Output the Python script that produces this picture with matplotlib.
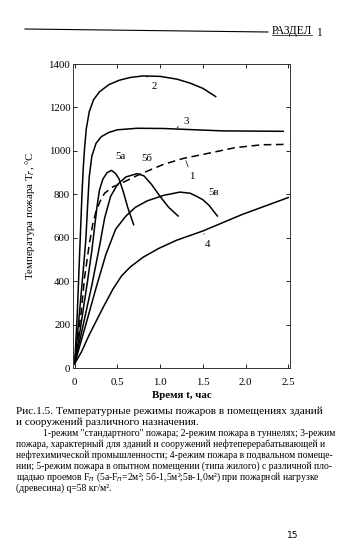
import numpy as np
import matplotlib.pyplot as plt

plt.rcParams['font.family'] = ['Liberation Serif', 'DejaVu Serif']

# Curve data (time, hours / temperature, C)
t1 = [0, 0.077, 0.115, 0.17, 0.21, 0.25, 0.3, 0.35, 0.45, 0.52, 0.75, 0.9, 1.04,
      1.27, 1.58, 1.88, 2.19, 2.5]
T1 = [20, 263, 415, 569, 660, 723, 770, 805, 835, 846, 890, 915, 938,
      965, 990, 1015, 1028, 1030]

t2 = [0, 0.03, 0.06, 0.085, 0.1, 0.115, 0.135, 0.17, 0.22, 0.29, 0.4, 0.52, 0.65,
      0.8, 1.0, 1.2, 1.35, 1.5, 1.65]
T2 = [20, 250, 550, 800, 920, 1010, 1100, 1180, 1235, 1272, 1305, 1325, 1338,
      1345, 1343, 1330, 1312, 1288, 1250]

t3 = [0, 0.05, 0.1, 0.13, 0.15, 0.17, 0.2, 0.25, 0.31, 0.4, 0.5, 0.73, 1.04, 1.35,
      1.73, 2.44]
T3 = [20, 230, 450, 590, 740, 880, 975, 1035, 1065, 1085, 1097, 1104, 1103, 1098,
      1092, 1090]

t4 = [0, 0.08, 0.17, 0.33, 0.45, 0.55, 0.65, 0.8, 0.98, 1.19, 1.5, 1.96, 2.5]
T4 = [20, 75, 153, 277, 365, 425, 465, 510, 550, 588, 631, 707, 785]

t5a = [0, 0.05, 0.1, 0.15, 0.2, 0.23, 0.26, 0.29, 0.33, 0.38, 0.43, 0.48, 0.52,
       0.57, 0.62, 0.69]
T5a = [20, 140, 270, 400, 540, 640, 740, 820, 870, 900, 910, 895, 870,
       810, 740, 660]

t5b = [0, 0.1, 0.2, 0.29, 0.35, 0.42, 0.5, 0.6, 0.73, 0.81, 0.9, 1.0, 1.1, 1.21]
T5b = [20, 200, 380, 560, 690, 790, 845, 880, 895, 885, 845, 790, 740, 700]

t5v = [0, 0.13, 0.25, 0.365, 0.48, 0.6, 0.71, 0.85, 1.04, 1.23, 1.35, 1.42, 1.5,
       1.57, 1.67]
T5v = [20, 200, 369, 523, 640, 700, 740, 770, 795, 810, 805, 792, 775, 750, 700]

W, H = 350, 557
fig = plt.figure(figsize=(W / 100, H / 100), dpi=100)

def px(x, y):
    return x / W, 1 - y / H

ax = fig.add_axes([73 / W, 1 - 368 / H, 217 / W, 304 / H])
kw = dict(color='black', lw=1.1)
ax.plot(t1, T1, ls=(0, (5, 3)), **kw)
ax.plot(t2, T2, **kw)
ax.plot(t3, T3, **kw)
ax.plot(t4, T4, **kw)
ax.plot(t5a, T5a, **kw)
ax.plot(t5b, T5b, **kw)
ax.plot(t5v, T5v, **kw)

ax.set_xlim(-0.02, 2.52)
ax.set_ylim(0, 1400)
ax.set_xticks([0, 0.5, 1.0, 1.5, 2.0, 2.5])
ax.set_xticklabels(['0', '0.5', '1.0', '1.5', '2.0', '2.5'])
ax.set_yticks(range(0, 1401, 200))
ax.tick_params(direction='in', top=True, right=True, length=3, width=0.6,
               labelsize=7.8)
ax.tick_params(axis='y', pad=2)
ax.tick_params(axis='x', pad=7)
for s in ax.spines.values():
    s.set_linewidth(0.7)
    s.set_color('#333333')

ax.set_xlabel('Время t, час', fontsize=7.8, fontweight='bold', labelpad=3)
ax.set_ylabel('Температура пожара T$_г$, °C', fontsize=7.8, labelpad=8)

# curve labels with short leader lines
lab = dict(fontsize=7.8, ha='center', va='center')
ln = dict(arrowstyle='-', lw=0.5, color='black')
ax.annotate('2', xy=(0.84, 1345), xytext=(0.93, 1295), arrowprops=ln, **lab)
ax.annotate('3', xy=(1.17, 1100), xytext=(1.31, 1135), arrowprops=ln, **lab)
ax.annotate('1', xy=(1.29, 967), xytext=(1.37, 880), arrowprops=ln, **lab)
ax.annotate('4', xy=(1.5, 631), xytext=(1.56, 570), arrowprops=ln, **lab)
ax.text(0.54, 975, '5а', **lab)
ax.text(0.84, 965, '5б', **lab)
ax.text(1.63, 810, '5в', **lab)

# page header
fig.add_artist(plt.Line2D([25 / W, 268 / W], [1 - 29 / H, 1 - 32 / H],
                          color='black', lw=0.8))
fig.text(*px(272, 31), 'РАЗДЕЛ', fontsize=8.3, va='center', ha='left')
fig.add_artist(plt.Line2D([272 / W, 312 / W], [1 - 35 / H, 1 - 35 / H],
                          color='black', lw=0.5))
fig.text(*px(316, 33), '1', fontsize=8.3, va='center', ha='left')

# caption
fig.text(*px(16, 411), 'Рис.1.5. Температурные режимы пожаров в помещениях зданий',
         fontsize=8.1, va='center', ha='left')
fig.text(*px(16, 422), 'и сооружений различного назначения.',
         fontsize=8.1, va='center', ha='left')
small = [
    (43, 433, '1-режим "стандартного" пожара; 2-режим пожара в туннелях; 3-режим'),
    (16, 444, 'пожара, характерный для зданий и сооружений нефтеперерабатывающей и'),
    (16, 455, 'нефтехимической промышленности; 4-режим пожара в подвальном помеще-'),
    (16, 466, 'нии; 5-режим пожара в опытном помещении (типа жилого) с различной пло-'),
    (16, 477, 'щадью проемов F$_п$ (5а-F$_п$=2м²; 5б-1,5м²;5в-1,0м²) при пожарной нагрузке'),
    (16, 488, '(древесина) q=58 кг/м².'),
]
for x, y, s in small:
    fig.text(*px(x, y), s, fontsize=6.9, va='center', ha='left')

fig.text(*px(293, 535), '15', fontsize=6.5, va='center', ha='center',
         family=['DejaVu Sans'])

fig.savefig('out.png', dpi=100)
